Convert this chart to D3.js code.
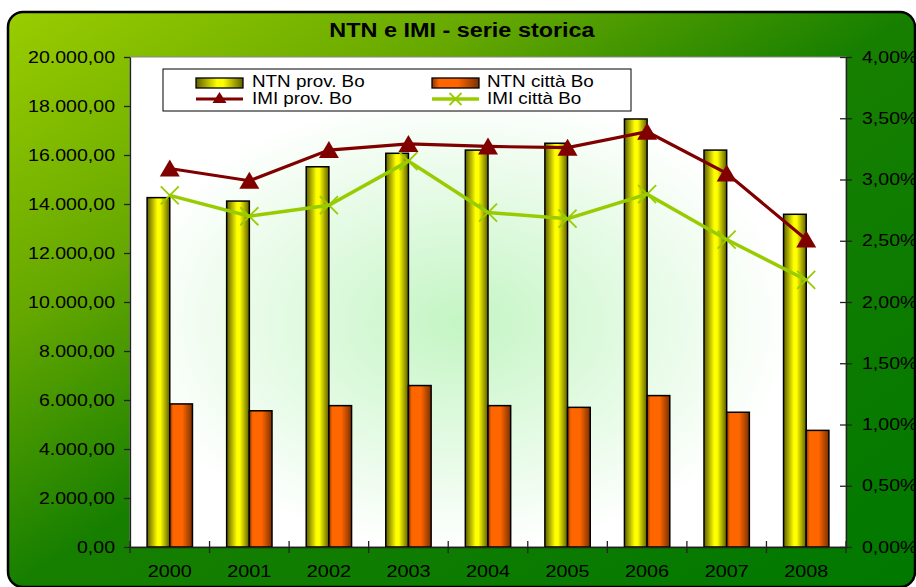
<!DOCTYPE html>
<html>
<head>
<meta charset="utf-8">
<script src="https://cdn.jsdelivr.net/npm/d3@7"></script>
<style>
html,body{margin:0;padding:0;background:#fff;}
svg{display:block;}
text{font-family:"Liberation Sans",Arial,sans-serif;fill:#000;}
</style>
</head>
<body>
<svg id="chart" width="916" height="587"></svg>
<script>
// ---- data ----
const years = ["2000","2001","2002","2003","2004","2005","2006","2007","2008"];
const ntnProv = [14260, 14120, 15520, 16070, 16200, 16480, 17470, 16200, 13580];
const ntnCitta = [5840, 5560, 5770, 6590, 5770, 5700, 6180, 5500, 4760];
const imiProv = [3.09, 2.99, 3.24, 3.29, 3.27, 3.26, 3.39, 3.05, 2.51];   // %
const imiCitta = [2.87, 2.70, 2.79, 3.15, 2.73, 2.68, 2.88, 2.51, 2.18];  // %
const leftTicks = [0,2000,4000,6000,8000,10000,12000,14000,16000,18000,20000];
const rightTicks = [0,0.5,1,1.5,2,2.5,3,3.5,4];
const seriesNames = ["NTN prov. Bo","NTN città Bo","IMI prov. Bo","IMI città Bo"];
const title = "NTN e IMI - serie storica";

const K = 1.2; // horizontal stretch of the text in the reference
const it = d3.formatLocale({decimal:",", thousands:".", grouping:[3], currency:["€",""]});
const fmtL = it.format(",.2f");
const fmtR = v => it.format(",.2f")(v) + "%";

const svg = d3.select("#chart");
const defs = svg.append("defs");

function stretch(sel){
  sel.each(function(){
    const w = this.getComputedTextLength();
    this.setAttribute("textLength", w*K);
    this.setAttribute("lengthAdjust","spacingAndGlyphs");
  });
}

// gradients
const bg = defs.append("linearGradient").attr("id","bg").attr("x1",0).attr("y1",0).attr("x2",1).attr("y2",1);
[[0,"#9acd00"],[0.27,"#66a800"],[0.5,"#177f00"],[1,"#007800"]].forEach(s=>bg.append("stop").attr("offset",s[0]).attr("stop-color",s[1]));
const pg = defs.append("radialGradient").attr("id","pg").attr("cx",0.46).attr("cy",0.54).attr("r",0.55);
[[0,"#c4f5c4"],[0.85,"#ffffff"],[1,"#ffffff"]].forEach(s=>pg.append("stop").attr("offset",s[0]).attr("stop-color",s[1]));
const yg = defs.append("linearGradient").attr("id","yg").attr("x1",0).attr("y1",0).attr("x2",1).attr("y2",0);
[[0,"#5e5e00"],[0.45,"#ffff00"],[0.58,"#ffff00"],[1,"#5e5e00"]].forEach(s=>yg.append("stop").attr("offset",s[0]).attr("stop-color",s[1]));
const og = defs.append("linearGradient").attr("id","og").attr("x1",0).attr("y1",0).attr("x2",1).attr("y2",0);
[[0,"#8a3800"],[0.15,"#ff6600"],[0.55,"#ff6600"],[1,"#7a3000"]].forEach(s=>og.append("stop").attr("offset",s[0]).attr("stop-color",s[1]));

// frame
svg.append("rect").attr("x",8).attr("y",12).attr("width",907).attr("height",575).attr("rx",15)
  .attr("fill","url(#bg)").attr("stroke","#000").attr("stroke-width",2.5);

// title
svg.append("text").attr("x",462).attr("y",37).attr("text-anchor","middle")
  .attr("font-size",19.5).attr("font-weight","bold").text(title).call(stretch);

// plot area
const P = {l:130, r:846, t:57, b:547};
svg.append("rect").attr("x",P.l).attr("y",P.t).attr("width",P.r-P.l).attr("height",P.b-P.t)
  .attr("fill","url(#pg)").attr("stroke","#888").attr("stroke-width",1);

const x = d3.scaleBand().domain(years).range([P.l,P.r]).padding(0);
const bw = x.bandwidth();
const x1 = d3.scaleBand().domain([0,1]).range([bw*0.215, bw*0.785]).padding(0);
const yL = d3.scaleLinear().domain([0,20000]).range([P.b,P.t]);
const yR = d3.scaleLinear().domain([0,4]).range([P.b,P.t]);

// bars
const g = svg.append("g");
years.forEach((yr,i)=>{
  [[ntnProv[i],"url(#yg)"],[ntnCitta[i],"url(#og)"]].forEach((d,j)=>{
    g.append("rect")
      .attr("x", x(yr)+x1(j)).attr("y", yL(d[0]))
      .attr("width", x1.bandwidth()).attr("height", yL(0)-yL(d[0]))
      .attr("fill", d[1]).attr("stroke","#000").attr("stroke-width",1.5);
  });
});

// axes
const axL = svg.append("g").attr("transform",`translate(${P.l},0)`)
  .call(d3.axisLeft(yL).tickValues(leftTicks).tickFormat(fmtL).tickSizeInner(6).tickSizeOuter(0).tickPadding(9));
const axR = svg.append("g").attr("transform",`translate(${P.r},0)`)
  .call(d3.axisRight(yR).tickValues(rightTicks).tickFormat(fmtR).tickSizeInner(6).tickSizeOuter(0).tickPadding(10));
axR.selectAll(".tick line").attr("x1",-6);
const axB = svg.append("g").attr("transform",`translate(0,${P.b})`)
  .call(d3.axisBottom(x).tickSize(0).tickPadding(18));
// category boundary ticks
axB.selectAll(".bt").data(d3.range(years.length+1)).enter().append("line").attr("class","bt")
  .attr("x1",i=>P.l+i*bw).attr("x2",i=>P.l+i*bw).attr("y1",-6).attr("y2",6);
[axL,axR,axB].forEach(a=>{
  a.selectAll("path.domain,line").attr("stroke","#222").attr("stroke-width",1.3);
  a.selectAll("text").attr("font-size",16.3).attr("font-family",'"Liberation Sans",Arial,sans-serif').attr("fill","#000");
});
axB.selectAll("text").attr("font-size",16.5).attr("dy","0.71em");
axL.selectAll("text").call(stretch);
axR.selectAll("text").call(stretch);
axB.selectAll("text").call(stretch);

// lines
const lineGen = d3.line().x((d,i)=>x(years[i])+bw/2).y(d=>yR(d));
svg.append("path").datum(imiCitta).attr("d",lineGen).attr("fill","none").attr("stroke","#99cc00").attr("stroke-width",3.5);
svg.append("path").datum(imiProv).attr("d",lineGen).attr("fill","none").attr("stroke","#800000").attr("stroke-width",3.2);
const triPath = "M0,-9L10,8L-10,8Z";
const xPath = "M-9,-9L9,9M-9,9L9,-9";
svg.append("g").selectAll("path").data(imiCitta).enter().append("path")
  .attr("transform",(d,i)=>`translate(${x(years[i])+bw/2},${yR(d)})`)
  .attr("d",xPath).attr("stroke","#99cc00").attr("stroke-width",1.8).attr("fill","none");
svg.append("g").selectAll("path").data(imiProv).enter().append("path")
  .attr("transform",(d,i)=>`translate(${x(years[i])+bw/2},${yR(d)})`)
  .attr("d",triPath).attr("fill","#800000");

// legend
const lg = svg.append("g");
lg.append("rect").attr("x",163).attr("y",69).attr("width",468).attr("height",42)
  .attr("fill","#fff").attr("stroke","#000").attr("stroke-width",1);
const cols = [196, 432];
const rows = [83, 99];
lg.append("rect").attr("x",cols[0]).attr("y",rows[0]-5).attr("width",47).attr("height",10).attr("fill","url(#yg)").attr("stroke","#000").attr("stroke-width",1.3);
lg.append("rect").attr("x",cols[1]).attr("y",rows[0]-5).attr("width",47).attr("height",10).attr("fill","url(#og)").attr("stroke","#000").attr("stroke-width",1.3);
lg.append("line").attr("x1",cols[0]).attr("x2",cols[0]+47).attr("y1",rows[1]).attr("y2",rows[1]).attr("stroke","#800000").attr("stroke-width",3.2);
lg.append("path").attr("transform",`translate(${cols[0]+23.5},${rows[1]-1})`).attr("d","M0,-6L7,5L-7,5Z").attr("fill","#800000");
lg.append("line").attr("x1",cols[1]).attr("x2",cols[1]+47).attr("y1",rows[1]).attr("y2",rows[1]).attr("stroke","#99cc00").attr("stroke-width",3.5);
lg.append("path").attr("transform",`translate(${cols[1]+23.5},${rows[1]})`).attr("d","M-6,-6L6,6M-6,6L6,-6").attr("stroke","#99cc00").attr("stroke-width",1.8);
const lt = [[seriesNames[0],cols[0]+56,87.3],[seriesNames[1],cols[1]+55,87.3],[seriesNames[2],cols[0]+56,104],[seriesNames[3],cols[1]+55,104]];
lt.forEach(t=>{
  lg.append("text").attr("x",t[1]).attr("y",t[2]).attr("font-size",15.7).text(t[0]).call(stretch);
});
</script>
</body>
</html>
